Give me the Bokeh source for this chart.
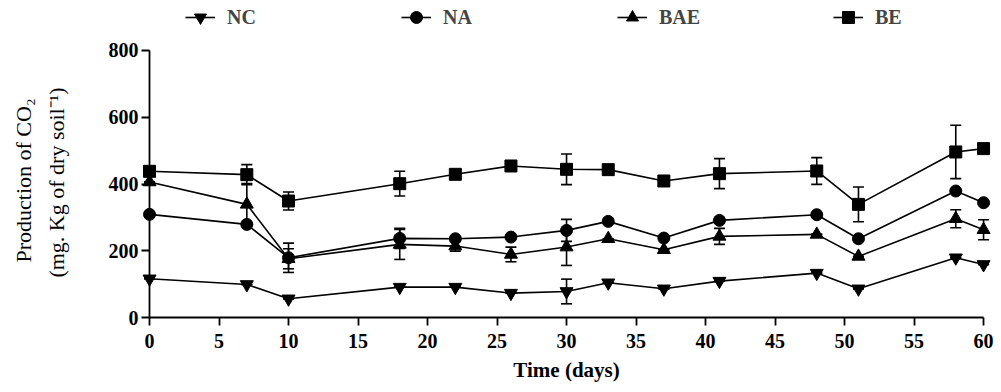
import math
from bokeh.plotting import figure
from bokeh.models import (Range1d, FixedTicker, Whisker, TeeHead, ColumnDataSource,
                          Legend, LegendItem, Label, LinearAxis)
from bokeh.embed import file_html
from bokeh.resources import INLINE

days = [0, 7, 10, 18, 22, 26, 30, 33, 37, 41, 48, 51, 58, 60]

nc_vals = [116, 99, 56, 91, 91, 73, 78, 104, 86, 109, 133, 86, 179, 159]
nc_err = [0, 0, 0, 0, 0, 0, 37, 0, 0, 0, 0, 0, 0, 0]

na_vals = [309, 279, 179, 237, 236, 241, 261, 288, 238, 291, 308, 236, 379, 344]
na_err = [0, 0, 44, 30, 0, 0, 33, 0, 0, 0, 0, 0, 0, 0]

bae_vals = [406, 339, 176, 219, 214, 189, 211, 236, 203, 243, 249, 183, 296, 263]
bae_err = [0, 62, 30, 45, 15, 22, 55, 0, 0, 24, 0, 0, 27, 30]

be_vals = [438, 428, 349, 401, 429, 454, 444, 443, 409, 431, 439, 339, 496, 506]
be_err = [10, 30, 27, 37, 0, 12, 46, 0, 0, 45, 40, 52, 80, 12]

series_names = ["NC", "NA", "BAE", "BE"]
x_ticks = list(range(0, 61, 5))
y_ticks = [0, 200, 400, 600, 800]

FONT = "Liberation Serif"

# The frame fills the whole canvas; axes are drawn at x = 0 and y = 0.
p = figure(width=1001, height=392, output_backend="svg", toolbar_location=None,
           x_range=Range1d(-10.72, 61.29), y_range=Range1d(-224.7, 949.8),
           min_border=0, min_border_left=0, min_border_right=0,
           min_border_top=0, min_border_bottom=0,
           x_axis_location=None, y_axis_location=None)
p.outline_line_color = None
p.xgrid.visible = False
p.ygrid.visible = False

xaxis = LinearAxis(bounds=(0, 60), ticker=FixedTicker(ticks=x_ticks), fixed_location=0)
yaxis = LinearAxis(bounds=(0, 800), ticker=FixedTicker(ticks=y_ticks), fixed_location=0)
for ax in (xaxis, yaxis):
    ax.axis_line_width = 1.8
    ax.major_tick_line_width = 1.8
    ax.major_tick_out = 8
    ax.major_tick_in = 0
    ax.minor_tick_line_color = None
    ax.major_label_text_font = FONT
    ax.major_label_text_font_style = "bold"
    ax.major_label_text_font_size = "20px"
    ax.major_label_text_color = "black"
    ax.axis_line_color = "black"
    ax.major_tick_line_color = "black"
xaxis.major_label_standoff = 8
yaxis.major_label_standoff = 3
p.add_layout(xaxis, "below")
p.add_layout(yaxis, "left")

data = [(nc_vals, nc_err, "inverted_triangle", 13),
        (na_vals, na_err, "circle", 12),
        (bae_vals, bae_err, "triangle", 13),
        (be_vals, be_err, "square", 12)]

items = []
for name, (vals, errs, marker, size) in zip(series_names, data):
    src = ColumnDataSource(dict(x=days, y=vals,
                                upper=[v + e for v, e in zip(vals, errs)],
                                lower=[v - e for v, e in zip(vals, errs)]))
    w = Whisker(base="x", upper="upper", lower="lower", source=src,
                line_color="black", line_width=1.6,
                upper_head=TeeHead(size=11, line_width=1.6, line_color="black"),
                lower_head=TeeHead(size=11, line_width=1.6, line_color="black"))
    p.add_layout(w)
    ln = p.line("x", "y", source=src, line_color="black", line_width=1.6)
    sc = p.scatter("x", "y", source=src, marker=marker, size=size,
                   fill_color="black", line_color="black")
    items.append(LegendItem(label=name, renderers=[ln, sc]))

legend = Legend(items=items, orientation="horizontal", location=(185, 360),
                glyph_width=30, glyph_height=30, label_standoff=12, label_width=50,
                spacing=124, padding=0, margin=0, border_line_color=None,
                background_fill_alpha=0,
                label_text_font=FONT, label_text_font_style="bold",
                label_text_font_size="20px")
p.add_layout(legend)

xlab = Label(x=30, y=23, x_units="data", y_units="screen",
             text="Time (days)", text_align="center", text_baseline="middle",
             text_font=FONT, text_font_style="bold", text_font_size="21px",
             text_color="black")
lab1 = Label(x=23, y=212, x_units="screen", y_units="screen", angle=math.pi / 2,
             text="Production of CO\u2082", text_align="center", text_baseline="middle",
             text_font=FONT, text_font_size="22px", text_color="black")
lab2 = Label(x=56, y=210, x_units="screen", y_units="screen", angle=math.pi / 2,
             text="(mg. Kg of dry soil\u207b\u00b9)", text_align="center", text_baseline="middle",
             text_font=FONT, text_font_size="22px", text_color="black")
p.add_layout(xlab)
p.add_layout(lab1)
p.add_layout(lab2)

open("out.html", "w").write(file_html(p, INLINE))
